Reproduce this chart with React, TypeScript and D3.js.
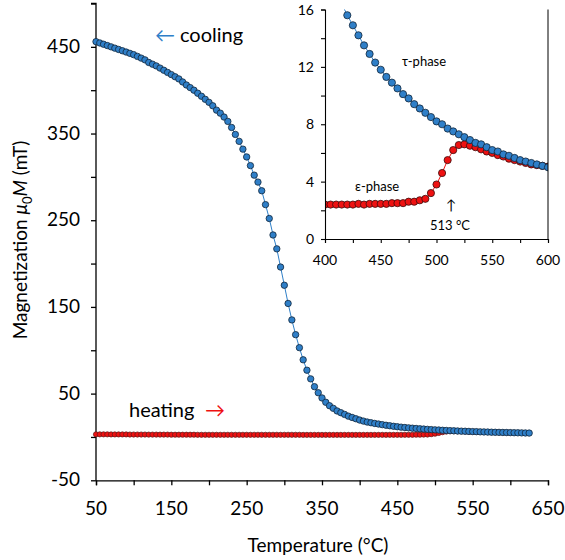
import React, { useEffect, useRef } from 'react';
import * as d3 from 'd3';

// temperatures step 5 °C
const coolT = d3.range(50, 626, 5);
const coolV = [
  456, 454.5, 453, 451.5, 450, 448.5, 447, 445.5, 444, 442.5, 441, 439, 437, 435, 432, 430, 428, 425.5, 423, 420.5,
  418, 415.5, 413, 409.5, 406, 403, 400, 396.5, 393, 389.5, 386, 382, 377, 373.5, 369, 364, 357, 349, 341, 332,
  323, 313, 302, 294, 284, 268, 252, 233, 217, 196, 175, 154, 135, 118, 103, 89, 77, 67, 58, 51,
  45, 40, 36, 33, 30, 28, 26, 24, 22.5, 21, 19.5, 18.3, 17.2, 16.4, 15.6, 14.9, 14.2, 13.5, 12.9, 12.3,
  11.8, 11.3, 10.9, 10.5, 10.1, 9.8, 9.4, 9.1, 8.8, 8.5, 8.2, 8.0, 7.7, 7.5, 7.3, 7.1, 6.9, 6.7, 6.6, 6.4,
  6.2, 6.1, 5.9, 5.8, 5.65, 5.5, 5.4, 5.3, 5.2, 5.1, 5.0, 4.9, 4.8, 4.7, 4.6, 4.5,
];
const heatT = d3.range(50, 601, 5);
const heatV = [
  3.2, 3.2, 3.1, 3.1, 3.1, 3.0, 3.0, 3.0, 3.0, 2.9, 2.9, 2.9, 2.9, 2.9, 2.8, 2.8, 2.8, 2.8, 2.8, 2.7,
  2.7, 2.7, 2.7, 2.7, 2.7, 2.6, 2.6, 2.6, 2.6, 2.6, 2.6, 2.6, 2.5, 2.5, 2.5, 2.5, 2.5, 2.5, 2.5, 2.5,
  2.5, 2.5, 2.5, 2.5, 2.5, 2.5, 2.5, 2.5, 2.5, 2.5, 2.5, 2.5, 2.5, 2.5, 2.5, 2.5, 2.5, 2.5, 2.5, 2.5,
  2.4, 2.4, 2.4, 2.4, 2.4, 2.4, 2.4, 2.4, 2.4, 2.4, 2.4, 2.4, 2.4, 2.4, 2.4, 2.4, 2.4, 2.4, 2.4, 2.4,
  2.4, 2.45, 2.4, 2.45, 2.45, 2.45, 2.45, 2.5, 2.5, 2.5, 2.6, 2.6, 2.7, 2.8, 3.2, 3.8, 4.6, 5.5, 6.2, 6.55,
  6.6, 6.5, 6.4, 6.25, 6.1, 6.0, 5.85, 5.75, 5.6, 5.5, 5.4, 5.3, 5.2, 5.15, 5.1, 5.05,
].slice(-111);
const mainXTicks = [50, 150, 250, 350, 450, 550, 650];
const mainYTicks = [-50, 50, 150, 250, 350, 450];
const insetXTicks = [400, 450, 500, 550, 600];
const insetYTicks = [0, 4, 8, 12, 16];

const BLUE = '#2f7fc8';
const RED = '#ee1111';
const FONT = 'Lato, "Open Sans", sans-serif';

const App: React.FC = () => {
  const ref = useRef<SVGSVGElement | null>(null);

  useEffect(() => {
    const svg = d3.select(ref.current);
    svg.selectAll('*').remove();
    const cool = coolT.map((t, i) => ({ t, v: coolV[i] }));
    const heat = heatT.map((t, i) => ({ t, v: heatV[i] }));

    // main chart
    const x = d3.scaleLinear().domain([50, 650]).range([96, 548]);
    const y = d3.scaleLinear().domain([-50, 500]).range([480.3, 3.5]);
    const g = svg.append('g').attr('font-family', FONT);

    const xAx = g.append('g').attr('transform', `translate(0,${y(-50)})`)
      .call(d3.axisBottom(x).tickValues(d3.range(50, 651, 50)).tickSize(5).tickFormat(() => ''));
    xAx.selectAll('.tick text').remove();
    g.append('g').selectAll('text').data(mainXTicks).enter().append('text')
      .attr('x', d => x(d)).attr('y', 515).attr('text-anchor', 'middle')
      .attr('font-size', 19).text(d => d);
    const yAx = g.append('g').attr('transform', `translate(${x(50)},0)`)
      .call(d3.axisLeft(y).tickValues(d3.range(-50, 501, 50)).tickSize(5).tickFormat(() => ''));
    yAx.select('.domain').attr('d', `M-5,${y(500)}H0V${y(-50)}`);
    g.append('g').selectAll('text').data(mainYTicks).enter().append('text')
      .attr('x', 80).attr('y', d => y(d) + 6).attr('text-anchor', 'end')
      .attr('font-size', 19).text(d => d);
    g.selectAll('.domain, .tick line').attr('stroke', '#000').attr('stroke-width', 1.3);

    const line = d3.line<{ t: number; v: number }>().x(d => x(d.t)).y(d => y(d.v));
    g.append('path').datum(heat).attr('d', line).attr('fill', 'none').attr('stroke', RED).attr('stroke-width', 1);
    g.append('g').selectAll('circle').data(heat).enter().append('circle')
      .attr('cx', d => x(d.t)).attr('cy', d => y(d.v)).attr('r', 2.6)
      .attr('fill', RED).attr('stroke', '#5a1a1a').attr('stroke-width', 0.7);
    g.append('path').datum(cool).attr('d', line).attr('fill', 'none').attr('stroke', BLUE).attr('stroke-width', 1);
    g.append('g').selectAll('circle').data(cool).enter().append('circle')
      .attr('cx', d => x(d.t)).attr('cy', d => y(d.v)).attr('r', 3.2)
      .attr('fill', BLUE).attr('stroke', '#12263a').attr('stroke-width', 0.8);

    g.append('text').attr('x', 318).attr('y', 552).attr('text-anchor', 'middle')
      .attr('font-size', 19).text('Temperature (°C)');
    const yt = g.append('text').attr('transform', 'translate(27,240) rotate(-90)')
      .attr('text-anchor', 'middle').attr('font-size', 19);
    yt.append('tspan').text('Magnetization ');
    yt.append('tspan').attr('font-style', 'italic').text('μ');
    yt.append('tspan').attr('font-size', 13).attr('dy', 5).text('0');
    yt.append('tspan').attr('font-style', 'italic').attr('dy', -5).text('M');
    yt.append('tspan').text(' (mT)');

    g.append('text').attr('x', 155).attr('y', 42).attr('font-size', 20).attr('fill', BLUE).text('←');
    g.append('text').attr('x', 180).attr('y', 42).attr('font-size', 20).text('cooling');
    g.append('text').attr('x', 129).attr('y', 417).attr('font-size', 20).text('heating');
    g.append('text').attr('x', 205).attr('y', 417).attr('font-size', 20).attr('fill', RED).text('→');

    // inset
    const ix = d3.scaleLinear().domain([400, 600]).range([325, 548]);
    const iy = d3.scaleLinear().domain([0, 16]).range([239, 9.5]);
    const ig = svg.append('g').attr('font-family', FONT);
    ig.append('rect').attr('x', 325).attr('y', 0).attr('width', 240).attr('height', 239).attr('fill', '#fff');
    const clip = ig.append('clipPath').attr('id', 'ic');
    clip.append('rect').attr('x', 325).attr('y', 9.5).attr('width', 223).attr('height', 229.5);
    const iline = d3.line<{ t: number; v: number }>().x(d => ix(d.t)).y(d => iy(d.v));
    const inner = ig.append('g').attr('clip-path', 'url(#ic)');
    const hIn = heat.filter(d => d.t >= 400);
    const cIn = cool.filter(d => d.t >= 420 && d.t <= 600);
    inner.append('path').datum(heat.filter(d => d.t >= 395)).attr('d', iline).attr('fill', 'none').attr('stroke', RED);
    inner.selectAll('.hc').data(hIn).enter().append('circle')
      .attr('cx', d => ix(d.t)).attr('cy', d => iy(d.v)).attr('r', 3.6)
      .attr('fill', RED).attr('stroke', '#3a0d0d').attr('stroke-width', 0.8);
    inner.append('path').datum(cool.filter(d => d.t >= 415)).attr('d', iline).attr('fill', 'none').attr('stroke', BLUE);
    inner.selectAll('.cc').data(cIn).enter().append('circle')
      .attr('cx', d => ix(d.t)).attr('cy', d => iy(d.v)).attr('r', 3.6)
      .attr('fill', BLUE).attr('stroke', '#12263a').attr('stroke-width', 0.8);

    ig.append('g').attr('transform', `translate(0,${iy(0)})`)
      .call(d3.axisBottom(ix).tickValues(d3.range(400, 601, 25)).tickSize(4).tickFormat(() => ''));
    ig.append('g').attr('transform', `translate(${ix(400)},0)`)
      .call(d3.axisLeft(iy).tickValues(d3.range(0, 17, 2)).tickSize(4).tickFormat(() => ''));
    ig.append('line').attr('x1', ix(600)).attr('x2', ix(600)).attr('y1', iy(16)).attr('y2', iy(0)).attr('stroke', '#000');
    ig.selectAll('.domain, .tick line').attr('stroke', '#000').attr('stroke-width', 1.1);
    ig.append('g').selectAll('text').data(insetXTicks).enter().append('text')
      .attr('x', d => ix(d)).attr('y', 265).attr('text-anchor', 'middle').attr('font-size', 14).text(d => d);
    ig.append('g').selectAll('text').data(insetYTicks).enter().append('text')
      .attr('x', 314).attr('y', d => iy(d) + 5).attr('text-anchor', 'end').attr('font-size', 14).text(d => d);

    ig.append('text').attr('x', 402).attr('y', 66).attr('font-size', 13).text('τ-phase');
    ig.append('text').attr('x', 355).attr('y', 191).attr('font-size', 13).text('ε-phase');
    ig.append('text').attr('x', ix(513)).attr('y', 210).attr('text-anchor', 'middle').attr('font-size', 14).text('↑');
    ig.append('text').attr('x', 430).attr('y', 230).attr('font-size', 13).text('513 °C');
  }, []);

  return <svg ref={ref} width={565} height={560} style={{ position: 'absolute', left: 0, top: 0 }} />;
};

export default App;
